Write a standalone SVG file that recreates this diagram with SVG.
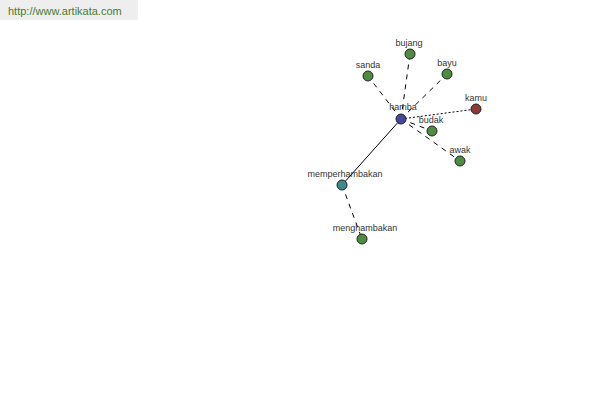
<svg xmlns="http://www.w3.org/2000/svg" width="600" height="400" viewBox="0 0 600 400">
<style>
.lbl{font-family:"Liberation Sans",Arial,sans-serif;font-size:9px;fill:#333;text-anchor:middle}
.n{stroke:#222;stroke-width:1}
.g{fill:#4e8c42}
.e{stroke:#000;stroke-width:1;fill:none}
.d{stroke-dasharray:5,5}
.o{stroke-dasharray:2,2}
</style>
<rect x="0" y="0" width="138" height="20" fill="#eeeeee"/>
<text x="8" y="15" font-family="Liberation Sans,Arial,sans-serif" font-size="11" fill="#4a7a32">http://www.artikata.com</text>
<g id="connectors">
<line class="e d" x1="401" y1="119" x2="410" y2="54"/>
<line class="e d" x1="401" y1="119" x2="368" y2="76"/>
<line class="e d" x1="401" y1="119" x2="447" y2="74"/>
<line class="e o" x1="401" y1="119" x2="476" y2="109"/>
<line class="e d" x1="401" y1="119" x2="432" y2="131"/>
<line class="e d" x1="401" y1="119" x2="460" y2="161"/>
<line class="e" x1="401" y1="119" x2="342" y2="185"/>
<line class="e d" x1="342" y1="185" x2="362" y2="239"/>
</g>
<g id="bujang"><circle class="n g" cx="410" cy="54" r="5"/><text class="lbl" x="409" y="46">bujang</text></g>
<g id="sanda"><circle class="n g" cx="368" cy="76" r="5"/><text class="lbl" x="368" y="68">sanda</text></g>
<g id="bayu"><circle class="n g" cx="447" cy="74" r="5"/><text class="lbl" x="447" y="66">bayu</text></g>
<g id="kamu"><circle class="n" fill="#8e3b3b" cx="476" cy="109" r="5"/><text class="lbl" x="476" y="101">kamu</text></g>
<g id="budak"><circle class="n g" cx="432" cy="131" r="5"/><text class="lbl" x="431" y="123">budak</text></g>
<g id="awak"><circle class="n g" cx="460" cy="161" r="5"/><text class="lbl" x="460" y="153">awak</text></g>
<g id="memperhambakan"><circle class="n" fill="#3c8a8a" cx="342" cy="185" r="5"/><text class="lbl" x="345" y="177">memperhambakan</text></g>
<g id="menghambakan"><circle class="n g" cx="362" cy="239" r="5"/><text class="lbl" x="365" y="231">menghambakan</text></g>
<g id="hamba"><circle class="n" fill="#4646a0" cx="401" cy="119" r="5"/><text class="lbl" x="403" y="110">hamba</text></g>
</svg>
